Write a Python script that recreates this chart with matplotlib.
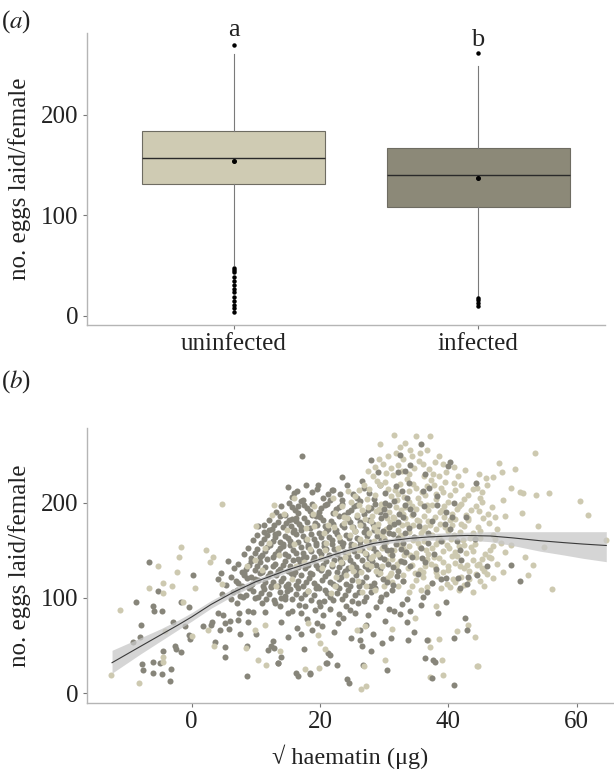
import numpy as np
import matplotlib
matplotlib.use("Agg")
import matplotlib.pyplot as plt

plt.rcParams['font.family'] = ['Liberation Serif', 'DejaVu Serif']
plt.rcParams['mathtext.fontset'] = 'stix'

# ---- panel (a): box plot summary ----
groups = ["uninfected", "infected"]
box_fill = ["#cfcbb3", "#8c8978"]
q1 = [131, 108.5]
median = [157.5, 140]
q3 = [184, 167.5]
whisk_lo = [51, 20]
whisk_hi = [261, 248.5]
means = [154, 137.5]
fliers = [
    [270, 48, 46, 44, 39, 35, 31, 27, 24, 19, 15, 11, 8, 4],
    [262, 18, 16, 13, 10],
]
letters = ["a", "b"]
letter_y = [284, 275]

# ---- panel (b): scatter, (sqrt haematin, eggs) ----
infected_pts = [
    (-9.2, 54), (-8.1, 59), (-7.9, 72), (-8.7, 96), (-6.6, 138), (-5.3, 107), (-6.0, 91), (-5.9, 86),
    (-4.6, 86), (-1.7, 96), (-0.4, 90), (0.2, 124), (-2.9, 74.5), (-1.0, 70.6), (-0.4, 61), (-0.3, 57),
    (1.8, 70.6), (3.0, 72), (-4.5, 44), (-2.6, 49), (-2.4, 46), (-1.7, 43), (-7.7, 31), (-6.0, 33),
    (-5.0, 32), (-7.5, 24), (-6.0, 21), (-4.6, 20), (-3.2, 25.5), (-3.4, 13), (5.7, 139), (4.1, 119.6),
    (4.5, 126), (6.5, 106.6), (8.2, 126), (9.3, 122),
    (5.2, 38), (8.6, 49.6), (3.7, 54), (5.2, 48), (4.4, 66.4), (5.8, 67), (7.5, 62), (10, 62), (8.6, 18),
    (11.9, 45), (12.9, 47), (12.3, 50), (12.7, 55), (13.4, 32), (13.9, 38), (4.1, 84), (4.9, 82), (6.0, 76),
    (7.3, 77), (7.4, 84), (8.8, 86.7), (9.5, 85), (11.4, 85.6), (8.8, 75), (7.0, 94.4), (8.0, 100.7),
    (9.9, 99.7), (10.9, 94.4), (13, 94.4), (13.8, 91), (14.5, 98.6), (15.6, 98.6), (15, 84), (15.7, 85.8),
    (17.1, 84), (17.6, 91), (19.2, 87.4), (20.5, 82), (22.9, 83), (20.6, 97), (5.2, 73.4), (3.1, 75),
    (16.6, 18), (18.4, 20), (16.3, 21), (18.5, 21), (21, 32), (22.6, 30), (21.1, 32), (13.5, 32),
    (17.5, 46.5), (21.3, 42.6), (21.5, 40), (15, 59.4), (17, 62), (19.5, 73.4), (20.3, 70.6), (24.2, 14.7),
    (24.5, 11), (26.7, 30), (30.5, 24.5), (37.4, 15.7), (37.9, 33), (40.8, 8.7), (36.6, 56), (40.8, 57.7),
    (42.9, 66), (42.6, 78.7), (41.8, 110), (41.5, 120.6), (42.9, 115), (43.1, 122), (44.4, 124), (46, 133.6),
    (49.8, 134.6), (51.1, 117.8), (44.3, 221),
    (14.0, 75), (16.4, 68), (18.0, 78), (21.5, 88), (22.8, 74), (24.0, 92), (25.5, 84), (26.3, 66),
    (27.5, 82), (28.8, 90), (30.2, 76), (31.5, 86), (32.4, 83), (33.5, 75), (34.6, 64.6), (35.8, 93),
    (38.4, 84), (39.7, 96), (36.0, 101), (36.6, 106.6), (37.4, 115.4), (39.7, 120.6), (24.7, 87.4),
    (29.6, 52.5), (28.0, 44.7), (26.3, 56), (26.5, 49), (33.7, 56), (36.3, 36.7), (37.6, 35),
    (16.8, 93), (18.8, 66), (20.0, 91), (23.6, 79), (25.9, 95), (27.2, 72), (29.4, 97), (30.8, 88),
    (32.8, 94), (34.0, 86), (22.2, 64), (24.8, 58), (28.3, 62), (31.1, 58),
    (4.8, 104), (6.2, 99), (7.1, 108), (8.5, 103), (9.6, 107), (10.4, 101), (11.2, 109), (12.0, 104),
    (12.9, 98), (13.7, 106), (14.6, 102), (15.3, 109), (16.2, 104), (17.0, 100), (18.1, 107), (19.0, 103),
    (19.8, 96), (20.7, 108), (21.5, 101), (22.6, 105), (23.4, 99), (24.3, 108), (25.4, 103), (26.8, 97),
    (27.9, 106), (29.5, 101), (31.2, 108), (33.5, 99),
    (7.6, 102), (9.0, 110), (10.8, 105), (11.6, 99), (12.4, 111), (14.0, 100), (14.9, 107), (16.6, 110),
    (17.6, 104), (18.6, 98), (19.4, 110), (21.1, 105), (22.0, 98), (23.0, 110), (23.9, 103), (25.0, 97),
    (26.0, 106), (27.1, 101), (28.6, 110), (30.3, 104),
    (5.3, 114), (6.9, 118), (7.8, 112), (8.7, 121), (9.4, 115), (10.3, 119), (11.1, 113), (11.9, 123),
    (12.7, 117), (13.5, 112), (14.3, 121), (15.0, 115), (15.8, 124), (16.6, 118), (17.4, 112), (18.3, 121),
    (19.1, 116), (19.9, 110), (20.8, 123), (21.6, 117), (22.5, 112), (23.3, 122), (24.1, 115), (25.0, 119),
    (26.1, 113), (27.2, 122), (28.4, 116), (29.8, 120), (31.3, 114), (33.0, 118),
    (6.1, 122), (7.3, 116), (8.2, 124), (9.1, 111), (9.9, 120), (10.7, 126), (11.5, 117), (12.3, 113),
    (13.1, 124), (13.9, 118), (14.7, 112), (15.5, 126), (16.2, 114), (17.0, 124), (17.8, 117), (18.7, 125),
    (19.5, 113), (20.3, 119), (21.2, 126), (22.0, 115), (22.9, 120), (23.7, 126), (24.6, 112), (25.6, 124),
    (26.6, 117), (27.8, 113), (29.0, 125), (30.5, 117), (32.0, 123),
    (6.6, 131), (7.9, 127), (8.9, 135), (9.8, 129), (10.6, 138), (11.4, 132), (12.2, 126), (13.0, 136),
    (13.8, 130), (14.6, 139), (15.4, 133), (16.1, 127), (16.9, 137), (17.7, 131), (18.5, 126), (19.3, 135),
    (20.1, 129), (20.9, 139), (21.8, 133), (22.6, 127), (23.5, 137), (24.3, 131), (25.2, 136), (26.0, 128),
    (27.0, 134), (28.1, 139), (29.3, 130), (30.6, 136), (32.2, 128), (34.0, 134),
    (7.2, 136), (8.4, 130), (9.3, 139), (10.2, 133), (11.0, 127), (11.8, 141), (12.6, 134), (13.4, 128),
    (14.2, 135), (15.0, 128), (15.8, 140), (16.5, 132), (17.3, 142), (18.1, 135), (18.9, 140), (19.7, 131),
    (20.5, 135), (21.3, 127), (22.2, 140), (23.0, 132), (23.9, 128), (24.7, 140), (25.6, 132), (26.5, 140),
    (27.5, 130), (28.7, 135), (30.0, 141), (31.4, 132), (33.1, 138),
    (8.2, 146), (9.3, 142), (10.2, 151), (11.0, 145), (11.8, 153), (12.6, 143), (13.4, 149), (14.2, 154),
    (15.0, 144), (15.8, 150), (16.6, 141), (17.4, 147), (18.2, 153), (19.0, 143), (19.8, 149), (20.6, 154),
    (21.4, 145), (22.2, 151), (23.1, 141), (23.9, 148), (24.8, 153), (25.7, 144), (26.6, 150), (27.6, 142),
    (28.7, 148), (29.9, 154), (31.2, 145), (32.6, 151), (34.3, 143),
    (8.8, 152), (9.8, 147), (10.6, 143), (11.4, 149), (12.2, 156), (13.0, 146), (13.8, 152), (14.6, 146),
    (15.4, 156), (16.2, 147), (17.0, 153), (17.8, 143), (18.6, 149), (19.4, 156), (20.2, 146), (21.0, 151),
    (21.8, 157), (22.7, 146), (23.5, 154), (24.4, 144), (25.3, 149), (26.2, 156), (27.1, 146), (28.2, 152),
    (29.3, 143), (30.5, 150), (31.9, 157), (33.4, 148),
    (9.6, 161), (10.8, 158), (11.7, 166), (12.6, 160), (13.4, 168), (14.2, 157), (15.0, 163), (15.8, 169),
    (16.6, 159), (17.4, 165), (18.2, 156), (19.0, 162), (19.8, 168), (20.6, 158), (21.4, 164), (22.3, 170),
    (23.1, 160), (24.0, 166), (24.9, 157), (25.8, 163), (26.8, 169), (27.8, 159), (28.9, 165), (30.1, 160),
    (31.4, 167), (32.9, 158), (34.6, 164),
    (10.2, 166), (11.2, 162), (12.1, 171), (13.0, 164), (13.8, 159), (14.6, 165), (15.4, 160), (16.2, 167),
    (17.0, 171), (17.8, 161), (18.6, 167), (19.4, 158), (20.2, 164), (21.0, 170), (21.9, 161), (22.7, 167),
    (23.6, 158), (24.5, 163), (25.4, 170), (26.3, 160), (27.3, 165), (28.4, 171), (29.5, 161), (30.8, 168),
    (32.2, 163),
    (11.3, 176), (12.5, 172), (13.4, 180), (14.3, 174), (15.1, 182), (15.9, 171), (16.7, 178), (17.5, 184),
    (18.4, 173), (19.2, 179), (20.0, 185), (20.8, 175), (21.7, 181), (22.5, 171), (23.4, 177), (24.3, 183),
    (25.2, 174), (26.2, 180), (27.2, 172), (28.3, 178), (29.5, 184), (30.8, 174), (32.2, 180), (33.8, 173),
    (12.0, 182), (12.9, 176), (13.8, 186), (14.7, 179), (15.5, 175), (16.3, 184), (17.1, 174), (17.9, 180),
    (18.8, 187), (19.6, 176), (20.4, 182), (21.2, 172), (22.1, 178), (22.9, 186), (23.8, 174), (24.7, 180),
    (25.7, 185), (26.7, 176), (27.7, 182), (28.9, 174), (30.1, 187), (31.5, 178), (33.0, 185),
    (13.2, 190), (14.6, 187), (15.7, 195), (16.6, 189), (17.5, 197), (18.4, 191), (19.3, 186), (20.2, 194),
    (21.1, 199), (22.0, 189), (22.9, 195), (23.8, 187), (24.8, 192), (25.8, 198), (26.9, 188), (28.0, 194),
    (29.3, 190), (30.7, 197), (32.3, 188), (34.0, 193),
    (14.0, 196), (15.1, 200), (16.1, 192), (17.0, 202), (17.9, 194), (18.8, 199), (19.8, 190), (20.7, 197),
    (21.6, 203), (22.5, 193), (23.4, 199), (24.3, 190), (25.3, 196), (26.3, 202), (27.4, 192), (28.6, 199),
    (30.0, 193), (31.5, 202), (33.2, 197),
    (15.6, 206), (17.3, 203), (18.8, 211), (20.4, 205), (22.0, 213), (23.5, 203), (25.1, 209), (26.8, 215),
    (28.4, 204), (30.1, 210), (31.9, 217), (33.6, 205), (36.0, 212), (38.2, 207),
    (16.4, 212), (19.6, 214), (21.2, 209), (24.2, 218), (27.6, 210), (29.3, 218), (32.8, 212), (17.8, 219),
    (25.8, 205),
    (23.4, 227), (26.5, 223), (29.0, 232), (32.2, 232.5), (33.2, 233), (34.0, 240), (39.9, 238), (40.2, 243),
    (17.2, 249), (32.4, 250), (35.8, 261), (28.0, 245), (21.8, 213), (23.1, 209), (19.7, 219), (15.0, 216),
    (16.0, 210), (16.6, 196.5), (16.2, 181), (15.6, 182.6), (10.4, 175.5), (11.3, 169.6), (13.0, 166.8),
    (35.2, 125), (36.4, 138), (37.8, 146), (35.7, 152), (38.9, 160), (36.9, 168), (40.3, 172), (37.5, 181),
    (39.6, 190), (41.8, 150), (42.7, 185), (44.1, 162), (36.2, 196), (40.8, 200), (35.4, 175), (38.1, 130),
    (42.0, 140),
    (31.0, 150), (33.2, 168), (34.5, 188), (36.8, 158), (38.2, 198), (39.4, 178), (32.6, 139), (35.9, 142),
    (37.0, 215), (40.6, 185), (30.2, 200), (33.9, 221), (41.3, 160), (29.8, 170), (36.4, 230), (38.8, 120),
]

uninfected_pts = [
    (-11.2, 87.4), (-5.3, 133), (-2.3, 127), (-6.6, 110), (-4.4, 116), (-4.4, 105), (-3.0, 112), (-1.3, 96),
    (0.5, 110), (-4.2, 65), (2.6, 66), (-12.5, 19), (-8.2, 11), (-4.5, 38), (-4.4, 33), (0, 60),
    (-1.6, 153.5), (-2.0, 143), (2.3, 150), (3.4, 143), (2.9, 138), (4.7, 115), (4.7, 199), (12.5, 187),
    (10.1, 175.5), (8.6, 133), (22.1, 204.6),
    (11.6, 30), (17.7, 25), (19.8, 26), (26.4, 4.2), (27.1, 7.7), (26.9, 28), (30.1, 35), (37.1, 17),
    (39.1, 19.5), (39.0, 35), (44.6, 28.6), (10.4, 35), (13.7, 44), (20, 52.5), (20.8, 46), (3.5, 49.6),
    (8.4, 47), (9.9, 66), (11.5, 71.7), (18.2, 73.4), (19.7, 61), (21.7, 105), (25.7, 66.4), (27.0, 70),
    (31.2, 67), (34.8, 79), (36.9, 56), (38.6, 57), (38.0, 91), (37.1, 48), (44.4, 28), (43.1, 71.7),
    (44.1, 59.4), (41.3, 65.7), (43.9, 106.6), (41.0, 117), (40.2, 111), (44.4, 134.6), (46.4, 143),
    (48.5, 127), (52.4, 124), (56.2, 109.4), (53.2, 134.6), (51.9, 143), (54.9, 153), (49.8, 155.6),
    (64.6, 161), (54.0, 175.5), (61.8, 186.8), (60.5, 202), (55.7, 210.5), (53.6, 208), (51.6, 210),
    (51.1, 211.5), (49.8, 215), (44.4, 215), (46.9, 227), (45.9, 225.6), (48.4, 232), (50.4, 235),
    (47.9, 242), (53.5, 252.5), (29.3, 261), (31.6, 271), (35.0, 270), (37.1, 270), (48.5, 203),
    (47.2, 184.7), (51.4, 189.5),
    (45.0, 205), (46.8, 195), (47.6, 172), (48.8, 186), (46.0, 218), (44.7, 230),
    (22.4, 112), (25.9, 118), (28.6, 108), (30.4, 121), (32.1, 113), (33.8, 106), (35.0, 119), (36.7, 111),
    (38.3, 123), (39.8, 115), (41.6, 108), (43.2, 120), (45.5, 113),
    (24.1, 124), (27.2, 113), (29.4, 126), (31.2, 117), (33.0, 124), (34.4, 112), (36.0, 122), (37.5, 116),
    (39.1, 127), (40.7, 120), (42.4, 114), (44.3, 125),
    (26.5, 106), (29.9, 112), (32.9, 118), (35.8, 108), (38.9, 110), (42.0, 122), (44.9, 118), (47.0, 121),
    (20.3, 131), (23.2, 138), (26.4, 127), (28.0, 142), (29.6, 133), (31.0, 126), (32.5, 139), (33.7, 131),
    (34.9, 143), (36.1, 127), (37.3, 136), (38.6, 142), (39.9, 129), (41.1, 137), (42.5, 131), (43.9, 140),
    (45.6, 128), (47.5, 136),
    (21.8, 136), (24.8, 132), (27.3, 136), (28.8, 128), (30.3, 140), (31.8, 132), (33.1, 145), (34.3, 135),
    (35.5, 129), (36.7, 141), (37.9, 133), (39.2, 138), (40.5, 144), (41.8, 133), (43.2, 128), (44.8, 136),
    (46.6, 142),
    (25.2, 128), (27.9, 133), (30.9, 124), (32.0, 136), (34.8, 126), (36.4, 134), (38.0, 127), (40.0, 133),
    (42.9, 135), (45.2, 131), (46.0, 125),
    (18.5, 151), (21.0, 158), (24.4, 148), (26.2, 162), (27.7, 153), (29.0, 146), (30.3, 159), (31.5, 150),
    (32.7, 163), (33.9, 154), (35.0, 147), (36.2, 160), (37.4, 152), (38.6, 164), (39.8, 156), (41.0, 148),
    (42.2, 161), (43.5, 153), (44.9, 163), (46.5, 150), (48.2, 158),
    (22.8, 152), (25.3, 156), (27.0, 147), (28.4, 160), (29.6, 152), (30.9, 146), (32.1, 157), (33.3, 149),
    (34.5, 161), (35.6, 153), (36.8, 146), (38.0, 157), (39.2, 149), (40.4, 162), (41.6, 154), (42.8, 147),
    (44.2, 157), (45.7, 146), (47.3, 162),
    (23.9, 143), (26.0, 150), (28.2, 144), (30.0, 154), (31.2, 141), (33.0, 152), (34.0, 145), (35.3, 158),
    (36.5, 150), (37.8, 143), (39.0, 160), (40.1, 152), (41.3, 144), (42.5, 156), (43.8, 149), (45.2, 141),
    (46.9, 154), (48.8, 148),
    (17.8, 173), (20.6, 168), (23.7, 179), (25.5, 170), (27.0, 183), (28.4, 174), (29.7, 167), (30.9, 180),
    (32.1, 171), (33.3, 184), (34.5, 176), (35.7, 168), (36.9, 181), (38.1, 172), (39.3, 185), (40.5, 177),
    (41.8, 169), (43.1, 182), (44.6, 174), (46.4, 179),
    (22.2, 174), (24.6, 166), (26.3, 176), (27.7, 168), (29.0, 178), (30.3, 172), (31.5, 184), (32.7, 176),
    (33.9, 169), (35.1, 182), (36.3, 174), (37.5, 166), (38.7, 178), (39.9, 170), (41.1, 183), (42.4, 175),
    (43.8, 168), (45.4, 184),
    (23.0, 164), (25.0, 174), (27.2, 160), (28.9, 170), (30.0, 163), (31.1, 176), (32.4, 166), (33.6, 178),
    (34.9, 163), (36.0, 171), (37.2, 177), (38.4, 161), (39.5, 174), (40.8, 166), (42.0, 178), (43.3, 163),
    (45.0, 170), (47.0, 166),
    (19.1, 196), (22.3, 189), (24.9, 201), (26.6, 192), (28.1, 186), (29.5, 199), (30.8, 190), (32.0, 203),
    (33.2, 195), (34.4, 187), (35.6, 200), (36.8, 192), (38.0, 204), (39.3, 196), (40.6, 188), (42.0, 199),
    (43.5, 192), (45.2, 201),
    (23.5, 196), (25.7, 187), (27.4, 195), (28.8, 191), (30.1, 197), (31.4, 185), (32.6, 192), (33.8, 201),
    (35.0, 193), (36.2, 186), (37.4, 198), (38.7, 190), (40.0, 201), (41.3, 193), (42.7, 187), (44.3, 196),
    (24.2, 184), (26.0, 197), (27.9, 181), (29.2, 193), (30.5, 184), (31.9, 195), (33.0, 188), (34.3, 196),
    (35.4, 181), (36.6, 197), (37.9, 185), (39.0, 192), (40.3, 182), (41.6, 196), (43.0, 184), (44.8, 191),
    (46.2, 188),
    (24.3, 212), (26.8, 219), (28.6, 208), (30.2, 222), (31.7, 213), (33.1, 206), (34.5, 220), (35.9, 211),
    (37.3, 224), (38.8, 215), (40.3, 208), (42.0, 219),
    (25.5, 207), (27.7, 214), (29.4, 218), (31.0, 207), (32.4, 220), (33.8, 212), (35.2, 205), (36.6, 217),
    (38.0, 209), (39.5, 222), (41.1, 213), (43.0, 208),
    (26.0, 213), (27.3, 204), (28.9, 223), (30.6, 214), (32.1, 209), (33.5, 225), (34.9, 215), (36.3, 208),
    (37.7, 218), (39.2, 211), (40.8, 221), (42.4, 204), (43.8, 214), (45.3, 211),
    (27.5, 233), (29.8, 241), (31.4, 229), (33.0, 246), (34.6, 236), (36.2, 228), (37.9, 243), (39.7, 232),
    (30.6, 249), (35.5, 252), (32.5, 258),
    (28.6, 237), (30.3, 231), (32.2, 240), (33.8, 230), (35.4, 244), (37.0, 235), (38.6, 228), (40.9, 237),
    (31.9, 252), (34.0, 255),
    (28.2, 228), (29.2, 246), (31.0, 236), (32.7, 233), (34.3, 249), (36.0, 241), (37.6, 230), (39.2, 241),
    (41.5, 228), (33.3, 263), (36.6, 255), (38.6, 249), (42.6, 234),
    (9.8, 140), (12.1, 158), (14.9, 171), (16.3, 134), (18.9, 188), (13.6, 145), (20.2, 142), (15.7, 120),
    (11.5, 152), (17.9, 162), (21.3, 176), (10.9, 129), (13.2, 112), (14.4, 188), (16.0, 157), (17.5, 138),
    (19.0, 175), (20.8, 150), (22.5, 122), (23.8, 185), (18.2, 107), (12.9, 197), (15.9, 205),
]

# loess fit with its confidence band
fit_h = [-12.4, -8, -5, -2, 0, 3, 6.4, 10, 14.8, 18, 22, 25, 28.2, 31, 34, 37, 40.2, 43, 46.5, 50, 54.3, 58, 61, 64.6]
fit_y = [32, 49, 60.5, 72, 80, 93, 105.6, 117, 129, 136, 145, 151, 157, 160, 162.5, 164, 165, 165.5, 165, 163, 160, 158, 156.5, 155]
fit_lo = [21, 41, 54, 67, 75.5, 89, 102, 114, 126.5, 133.5, 142.5, 148.5, 154.5, 157.5, 159.5, 160.5, 161, 160.5, 159, 155, 149, 145, 141.5, 138]
fit_hi = [45, 58, 67, 77, 84.5, 97, 109.5, 120, 131.5, 138.5, 147.5, 153.5, 159.5, 162.5, 165.5, 167.5, 168.5, 169, 169.5, 169.5, 169.5, 169.5, 169.5, 169.5]

spine_col = "#b5b5b5"
text_col = "#222222"
dark_col = "#87857a"
light_col = "#cdc9b0"
fs = 18

fig = plt.figure(figsize=(6.14, 7.76), dpi=100)
W, H = 614, 776
ax1 = fig.add_axes([87 / W, 1 - 325 / H, (605 - 87) / W, (325 - 33) / H])
ax2 = fig.add_axes([87 / W, 1 - 702.7 / H, (614 - 87) / W, (702.7 - 428.3) / H])

stats = []
for i, g in enumerate(groups):
    stats.append(dict(label=g, q1=q1[i], med=median[i], q3=q3[i], whislo=whisk_lo[i],
                      whishi=whisk_hi[i], mean=means[i], fliers=fliers[i]))
bp = ax1.bxp(stats, positions=[1, 2], widths=0.75, patch_artist=True, showmeans=True,
             showcaps=False,
             boxprops=dict(edgecolor="#6e6c62", linewidth=0.8),
             medianprops=dict(color="#2a2a2a", linewidth=1.0),
             whiskerprops=dict(color="#7a7a7a", linewidth=0.8),
             flierprops=dict(marker="o", markerfacecolor="black", markeredgecolor="black", markersize=2.2),
             meanprops=dict(marker="o", markerfacecolor="black", markeredgecolor="black", markersize=2.6))
for patch, c in zip(bp["boxes"], box_fill):
    patch.set_facecolor(c)
for i, t in enumerate(letters):
    ax1.text(i + 1, letter_y[i], t, ha="center", va="center", fontsize=19, color=text_col)

ax1.set_xlim(0.398, 2.52)
ax1.set_ylim(-9, 281.5)
ax1.set_yticks([0, 100, 200])
ax1.set_xticks([1, 2])
ax1.set_xticklabels(groups)
ax1.set_ylabel("no. eggs laid/female", fontsize=fs, color=text_col, labelpad=7)

inf = np.array(infected_pts)
uni = np.array(uninfected_pts)
right = inf[:, 0] > 29.5
ax2.fill_between(fit_h, fit_lo, fit_hi, color="#c8c8c8", alpha=0.75, linewidth=0, zorder=4)
ax2.scatter(inf[~right, 0], inf[~right, 1], s=19, color=dark_col, linewidths=0, zorder=2)
ax2.scatter(uni[:, 0], uni[:, 1], s=19, color=light_col, linewidths=0, zorder=2.5)
ax2.scatter(inf[right, 0], inf[right, 1], s=19, color=dark_col, linewidths=0, zorder=3)
ax2.plot(fit_h, fit_y, color="#3a3a3a", linewidth=0.8, zorder=5)
ax2.set_xlim(-16.3, 65.8)
ax2.set_ylim(-10, 278)
ax2.set_xticks([0, 20, 40, 60])
ax2.set_yticks([0, 100, 200])
ax2.set_xlabel("√ haematin (μg)", fontsize=17.5, color=text_col, labelpad=8)
ax2.set_ylabel("no. eggs laid/female", fontsize=fs, color=text_col, labelpad=7)

for ax in (ax1, ax2):
    for s in ("top", "right"):
        ax.spines[s].set_visible(False)
    for s in ("left", "bottom"):
        ax.spines[s].set_color(spine_col)
        ax.spines[s].set_linewidth(1.0)
    ax.tick_params(length=3, width=0.8, color="#777777", labelsize=fs, labelcolor=text_col, pad=3)

fig.text(0.002, 0.99, r"($\mathit{a}$)", fontsize=fs, va="top", ha="left", color=text_col)
fig.text(0.002, 1 - 368 / H, r"($\mathit{b}$)", fontsize=fs, va="top", ha="left", color=text_col)

fig.savefig("out.png", dpi=100)
